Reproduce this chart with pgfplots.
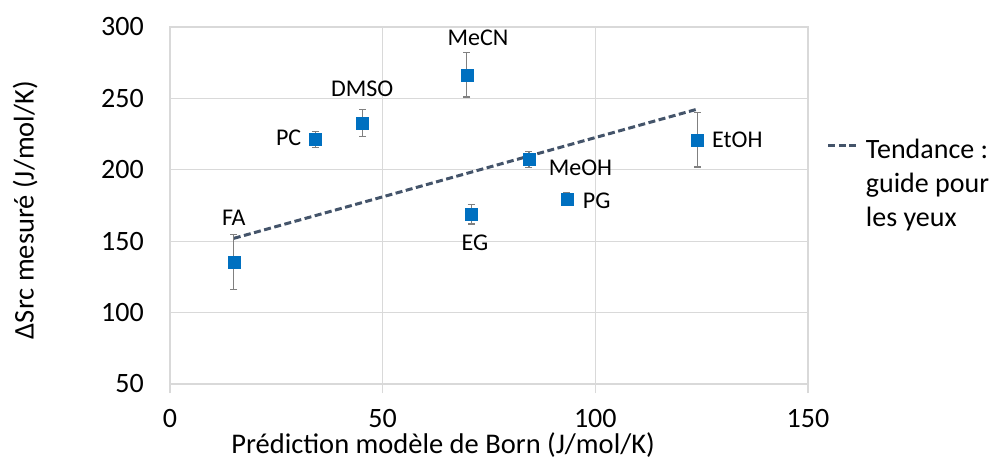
\documentclass[border=0pt]{standalone}
\usepackage{pgfplots}
\pgfplotsset{compat=1.18}
\usepackage{fontspec}
\setmainfont{Carlito}
\definecolor{markblue}{HTML}{0070C0}
\definecolor{trend}{HTML}{44546A}
\definecolor{gridc}{HTML}{D9D9D9}
\definecolor{errc}{HTML}{808080}
\pgfplotstableread{
x y e
15.0 135.4 19.5
34.2 221.1 5.6
45.3 232.8 9.4
69.8 266.5 15.5
70.8 168.8 6.8
84.4 207.2 5.5
93.3 179.3 4.4
124.0 221.0 19.1
}\pts
\begin{document}
\begin{tikzpicture}
\useasboundingbox (-170pt,-77pt) rectangle (820pt,384pt);
\begin{axis}[
  at={(0pt,0pt)}, anchor=south west,
  scale only axis, width=638pt, height=357pt,
  xmin=0, xmax=150, ymin=50, ymax=300,
  xtick={0,50,100,150}, ytick={50,100,...,300},
  grid=major, major grid style={gridc,line width=1.2pt},
  axis line style={gridc,line width=1.2pt},
  tick align=outside,
  xtick pos=left, ytick pos=left,
  major tick length=9pt,
  xtick style={gridc,line width=1.2pt},
  ytick style={draw=none},
  ticklabel style={font=\fontsize{28}{34}\selectfont, inner sep=0pt},
  xticklabel style={yshift=-16pt},
  yticklabel style={xshift=-17pt},
  /pgf/number format/assume math mode=true,
  xlabel={Prédiction modèle de Born (J/mol/K)},
  xlabel style={at={(axis description cs:0.428,-0.196)}, anchor=base, inner sep=0pt, font=\fontsize{28.5}{34}\selectfont},
  ylabel={ΔSrc mesuré (J/mol/K)},
  ylabel style={at={(axis description cs:-0.227,0.487)}, anchor=center, font=\fontsize{28.5}{34}\selectfont},
  legend style={at={(axis description cs:1.0293,0.688)}, anchor=north west, draw=none, fill=none, inner sep=0pt,
    font=\fontsize{28}{34}\selectfont,
    nodes={inner sep=0pt, text height=20pt, text depth=7pt},
    /tikz/row sep=7pt, /tikz/column sep=6pt},
  legend cell align=left,
  legend image code/.code={\draw[#1] (0pt,7pt) -- (30pt,7pt);},
  clip=false,
]
\addplot[trend, line width=3pt, dash pattern=on 7pt off 3.5pt] coordinates {(15,152) (124,242.5)};
\addlegendentry{Tendance :}
\addlegendimage{empty legend}\addlegendentry{guide pour}
\addlegendimage{empty legend}\addlegendentry{les yeux}
\addplot[only marks, mark=square*, mark size=6pt, color=markblue, forget plot,
  error bars/.cd, y dir=both, y explicit,
  error bar style={errc,line width=1.2pt},
  error mark options={rotate=90,errc,mark size=3.5pt,line width=1.2pt}]
  table[x=x,y=y,y error=e] {\pts};
\begin{scope}[every node/.style={font=\fontsize{24}{29}\selectfont, inner sep=0pt}]
\node at (axis cs:15.0,166.1) {FA};
\node at (axis cs:27.9,222.6) {PC};
\node at (axis cs:45.2,256.8) {DMSO};
\node at (axis cs:72.4,292.4) {MeCN};
\node at (axis cs:71.7,149.2) {EG};
\node at (axis cs:96.5,201.6) {MeOH};
\node at (axis cs:100.3,178.6) {PG};
\node at (axis cs:133.4,221.2) {EtOH};
\end{scope}
\end{axis}
\end{tikzpicture}
\end{document}
